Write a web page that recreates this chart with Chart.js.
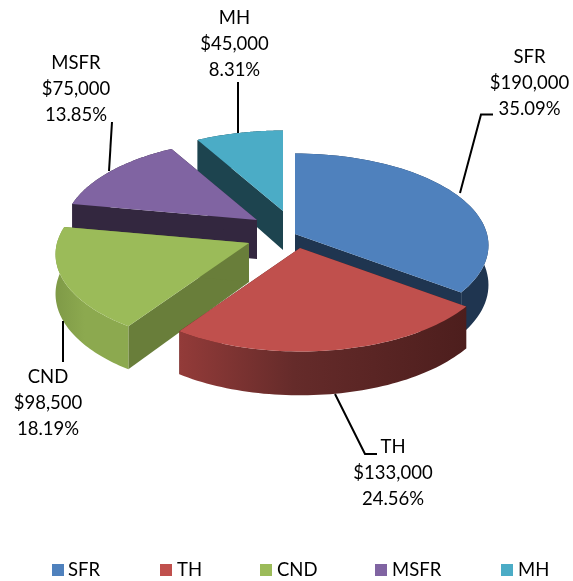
<!DOCTYPE html>
<html><head><meta charset="utf-8">
<style>html,body{margin:0;padding:0;background:#fff}canvas{display:block}</style>
<script src="https://cdn.jsdelivr.net/npm/chart.js@4"></script>
</head><body><canvas id="c" width="573" height="581"></canvas>
<script>
const categories = ['SFR','TH','CND','MSFR','MH'];
const values = [190000,133000,98500,75000,45000];
const percents = ['35.09%','24.56%','18.19%','13.85%','8.31%'];
const topColors = ['#4f81bd','#c0504d','#9bbb59','#8064a2','#4bacc6'];
const sideColors = ['#1f3550','#4d1e1d','#697e3a','#33273f','#1d444f'];
const rimStart = ['#1f3550','#933b39','#7f9a47','#33273f','#1d444f'];
const rimMid = ['#1f3550','#652b2a','#8ca94f','#33273f','#1d444f'];
const rimEnd = ['#1f3550','#4d1e1d','#8ca94f','#33273f','#1d444f'];
// pixel shift of each slice relative to the chart centre (pie explosion)
const explodeX = [24,29,-22,-14,12];
const explodeY = [-6.5,7.5,2.5,-20.5,-29.5];
const paintOrder = [4,3,0,2,1];
const tilt = 0.479, persp = 0.125, depth = 39;
const labelX = [529.5,393,48,76,234.5];
const labelY = [63,453,383,69,24];
const leaders = [
  [[493,114.5],[481,114.5],[460,193]],
  [[335,394],[365,454],[377,454]],
  [[63,321],[63,362]],
  [[112,122],[109,171]],
  [[238,82],[238,133]]
];
const legendBoxX = [52,160,260,375,501];
const legendTextX = [68,177,277,392,518];
const legendBoxY = 564, legendBoxSize = 12, legendBaseline = 576;
const FONT = '18.5px Lato';

const pie3d = {
  id:'pie3d',
  beforeDatasetDraw(){ return false; },
  afterDatasetsDraw(chart){
    const ctx = chart.ctx, arcs = chart.getDatasetMeta(0).data;
    paintOrder.forEach(i=>{
      const el = arcs[i], R = el.outerRadius;
      const ax = el.x+explodeX[i], ay = el.y+explodeY[i];
      const proj = (a,z)=>{
        const u=Math.cos(a), v=Math.sin(a), s=1+persp*v;
        return [ax+R*u*s, ay+R*tilt*v*s+z*depth*s];
      };
      const steps=60, top=[], low=[];
      for(let k=0;k<=steps;k++){
        const a=el.startAngle+(el.endAngle-el.startAngle)*k/steps;
        top.push(proj(a,0)); low.push(proj(a,1));
      }
      const poly=(pts,fill)=>{
        ctx.beginPath();
        pts.forEach((p,n)=> n?ctx.lineTo(p[0],p[1]):ctx.moveTo(p[0],p[1]));
        ctx.closePath(); ctx.fillStyle=fill; ctx.fill();
      };
      // radial cut faces
      const a0=[ax,ay], a1=[ax,ay+depth];
      poly([a0,top[0],low[0],a1],sideColors[i]);
      poly([a0,top[steps],low[steps],a1],sideColors[i]);
      // outer rim
      const xs=top.concat(low).map(p=>p[0]);
      const g=ctx.createLinearGradient(Math.min(...xs),0,Math.max(...xs),0);
      g.addColorStop(0,rimStart[i]); g.addColorStop(.4,rimMid[i]); g.addColorStop(1,rimEnd[i]);
      poly(top.concat(low.slice().reverse()),g);
      // top face
      poly([a0].concat(top),topColors[i]);
    });
    // data labels and leader lines
    ctx.save();
    ctx.strokeStyle='#000'; ctx.lineWidth=2;
    leaders.forEach(l=>{
      ctx.beginPath();
      l.forEach((p,n)=> n?ctx.lineTo(p[0],p[1]):ctx.moveTo(p[0],p[1]));
      ctx.stroke();
    });
    ctx.fillStyle='#000'; ctx.font=FONT; ctx.textAlign='center'; ctx.textBaseline='alphabetic';
    categories.forEach((c,i)=>{
      const lines=[c,'$'+values[i].toLocaleString('en-US'),percents[i]];
      lines.forEach((t,n)=>ctx.fillText(t,labelX[i],labelY[i]+n*26));
    });
    // legend
    ctx.textAlign='left';
    categories.forEach((c,i)=>{
      ctx.fillStyle=topColors[i];
      ctx.fillRect(legendBoxX[i],legendBoxY,legendBoxSize,legendBoxSize);
      ctx.fillStyle='#000';
      ctx.fillText(c,legendTextX[i],legendBaseline);
    });
    ctx.restore();
  }
};

new Chart(document.getElementById('c'),{
  type:'pie',
  data:{labels:categories,datasets:[{data:values,backgroundColor:topColors,borderWidth:0}]},
  plugins:[pie3d],
  options:{
    responsive:false,animation:false,radius:192,
    layout:{padding:{right:31,bottom:100}},
    plugins:{tooltip:{enabled:false},legend:{display:false}}
  }
});
</script></body></html>
